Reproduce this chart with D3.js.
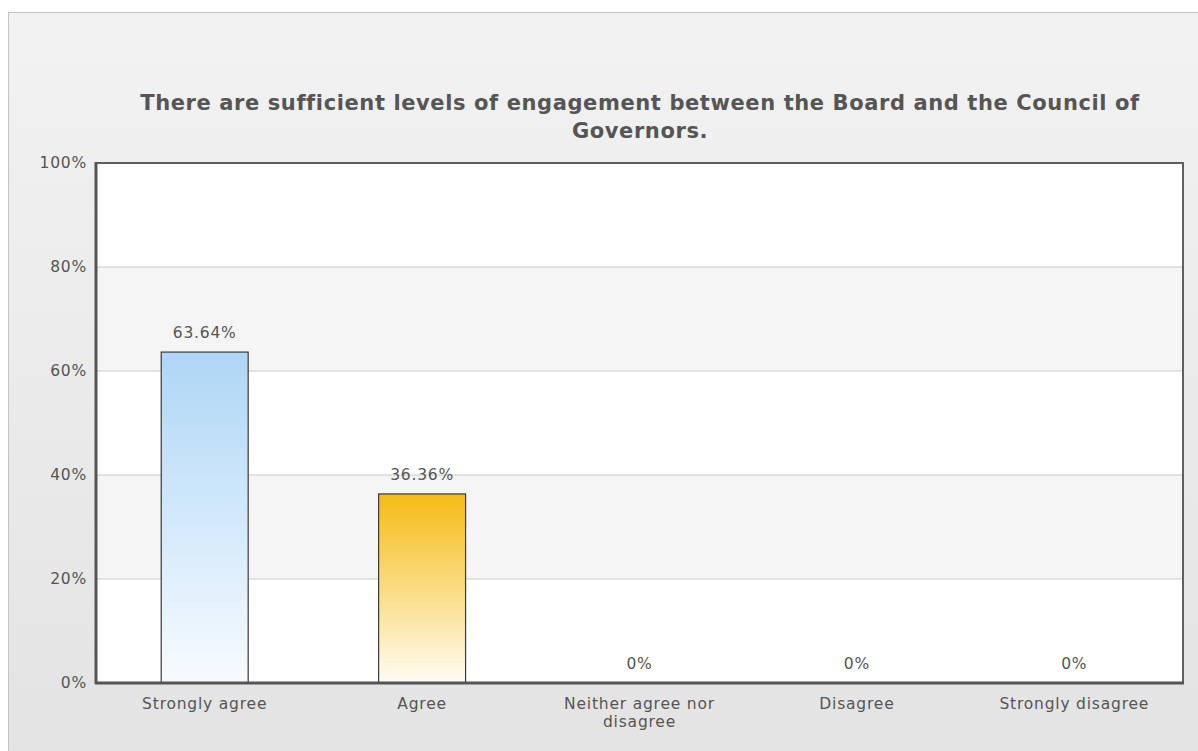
<!DOCTYPE html>
<html><head><meta charset="utf-8">
<script src="https://cdn.jsdelivr.net/npm/d3@7"></script>
<style>html,body{margin:0;padding:0;background:#fff;overflow:hidden}</style>
</head><body>
<svg id="c" width="1198" height="751"></svg>
<script>
const titleLines = ["There are sufficient levels of engagement between the Board and the Council of", "Governors."];
const categories = ["Strongly agree", "Agree", "Neither agree nor disagree", "Disagree", "Strongly disagree"];
const categoryLines = [["Strongly agree"], ["Agree"], ["Neither agree nor", "disagree"], ["Disagree"], ["Strongly disagree"]];
const values = [63.64, 36.36, 0, 0, 0];
const valueLabels = ["63.64%", "36.36%", "0%", "0%", "0%"];
const yTicks = [0, 20, 40, 60, 80, 100];

const svg = d3.select("#c");
const W = 1198, H = 751;
const m = {left: 96, top: 163, right: 1183, bottom: 683};
const font = "'DejaVu Sans', Verdana, sans-serif";
const fs = 15.5, ls = 0.8;

const defs = svg.append("defs");
const bg = defs.append("linearGradient").attr("id","bg").attr("x1",0).attr("y1",0).attr("x2",0).attr("y2",1);
bg.append("stop").attr("offset","0%").attr("stop-color","#f2f2f2");
bg.append("stop").attr("offset","100%").attr("stop-color","#e3e3e3");
const gBlue = defs.append("linearGradient").attr("id","gb").attr("x1",0).attr("y1",0).attr("x2",0).attr("y2",1);
gBlue.append("stop").attr("offset","0%").attr("stop-color","#aed6f6");
gBlue.append("stop").attr("offset","100%").attr("stop-color","#f7fbff");
const gYel = defs.append("linearGradient").attr("id","gy").attr("x1",0).attr("y1",0).attr("x2",0).attr("y2",1);
gYel.append("stop").attr("offset","0%").attr("stop-color","#f5bb14");
gYel.append("stop").attr("offset","100%").attr("stop-color","#fffcf3");
const fills = ["url(#gb)", "url(#gy)", "url(#gb)", "url(#gy)", "url(#gb)"];

svg.append("rect").attr("x",8.5).attr("y",12.5).attr("width",W).attr("height",H)
  .attr("fill","url(#bg)").attr("stroke","#c4c4c4");

const x = d3.scaleBand().domain(categories).range([m.left, m.right]).paddingInner(0).paddingOuter(0);
const y = d3.scaleLinear().domain([0,100]).range([m.bottom, m.top]);

svg.append("rect").attr("x",m.left).attr("y",m.top).attr("width",m.right-m.left).attr("height",m.bottom-m.top).attr("fill","#fff");
const bandPairs = d3.pairs(yTicks);
svg.append("g").selectAll("rect").data(bandPairs).join("rect")
  .attr("x", m.left).attr("width", m.right-m.left)
  .attr("y", d => y(d[1])).attr("height", d => y(d[0]) - y(d[1]))
  .attr("fill", (d,i) => (i % 2 === 1) ? "#f5f5f5" : "#ffffff");

svg.append("g").selectAll("line").data(yTicks.slice(1,-1)).join("line")
  .attr("x1", m.left).attr("x2", m.right).attr("y1", d => y(d)).attr("y2", d => y(d))
  .attr("stroke","#c8c8c8").attr("stroke-width",1);

const bw = x.bandwidth()*0.4;
svg.append("g").selectAll("rect").data(values).join("rect")
  .attr("x", (d,i) => x(categories[i]) + x.bandwidth()/2 - bw/2)
  .attr("width", bw)
  .attr("y", d => y(d))
  .attr("height", d => y(0) - y(d))
  .attr("fill", (d,i) => fills[i])
  .attr("stroke", "#3a3a3a").attr("stroke-width", 1.2)
  .attr("display", d => d > 0 ? null : "none");

svg.append("rect").attr("x",m.left).attr("y",m.top).attr("width",m.right-m.left).attr("height",m.bottom-m.top)
  .attr("fill","none").attr("stroke","#5f5f5f").attr("stroke-width",2);
svg.append("line").attr("x1",m.left).attr("x2",m.left).attr("y1",m.top-1).attr("y2",m.bottom+1).attr("stroke","#555").attr("stroke-width",3);
svg.append("line").attr("x1",m.left-1).attr("x2",m.right+1).attr("y1",m.bottom).attr("y2",m.bottom).attr("stroke","#555").attr("stroke-width",3);

svg.append("g").selectAll("text").data(values).join("text")
  .attr("x", (d,i) => x(categories[i]) + x.bandwidth()/2)
  .attr("y", d => y(d) - 14)
  .attr("text-anchor","middle").attr("font-family",font).attr("font-size",fs).attr("letter-spacing",ls).attr("fill","#555")
  .text((d,i) => valueLabels[i]);

svg.append("g").selectAll("text").data(yTicks).join("text")
  .attr("x", m.left - 9).attr("y", d => y(d) + 5)
  .attr("text-anchor","end").attr("font-family",font).attr("font-size",fs).attr("letter-spacing",ls).attr("fill","#555")
  .text(d => d + "%");

const xl = svg.append("g").selectAll("text").data(categories).join("text")
  .attr("x", d => x(d) + x.bandwidth()/2).attr("y", m.bottom + 26)
  .attr("text-anchor","middle").attr("font-family",font).attr("font-size",fs).attr("letter-spacing",ls).attr("fill","#555");
xl.each(function(d,i){
  d3.select(this).selectAll("tspan").data(categoryLines[i]).join("tspan")
    .attr("x", x(d) + x.bandwidth()/2).attr("dy", (t,j) => j === 0 ? 0 : 18).text(t => t);
});

svg.append("g").selectAll("text").data(titleLines).join("text")
  .attr("x", 640).attr("y", (d,i) => 110 + i*28)
  .attr("text-anchor","middle").attr("font-family",font).attr("font-weight","bold").attr("font-size",21).attr("letter-spacing",0.6).attr("fill","#555")
  .text(d => d);
</script>
</body></html>
